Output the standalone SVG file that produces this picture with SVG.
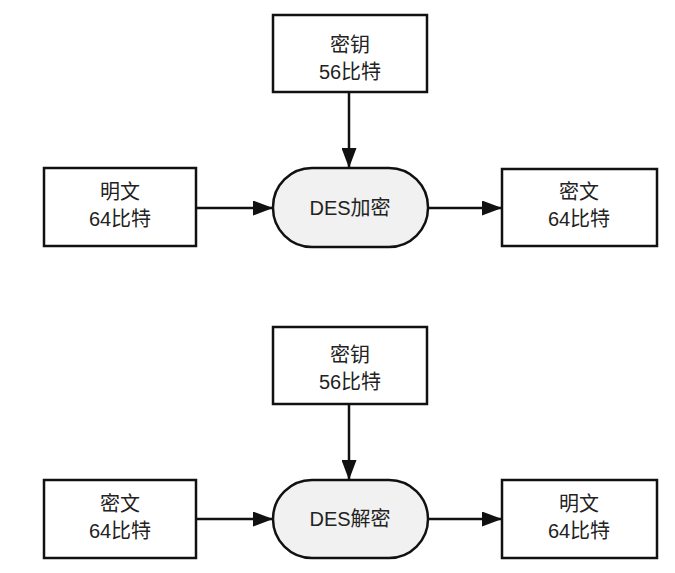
<svg xmlns="http://www.w3.org/2000/svg" width="675" height="573" viewBox="0 0 675 573">
<style>
.box{fill:#fff;stroke:#111;stroke-width:2.5}
.pill{fill:#f1f1f1;stroke:#111;stroke-width:2.5}
.t{font-family:"Liberation Sans","Noto Sans CJK SC",sans-serif;font-size:20px;fill:#222;text-anchor:middle}
.c{stroke:#111;stroke-width:2.5;fill:none;marker-end:url(#a)}
</style>
<defs>
<marker id="a" viewBox="0 0 20 15" refX="20" refY="7.5" markerWidth="20" markerHeight="15" markerUnits="userSpaceOnUse" orient="auto">
<path d="M0,0 L20,7.5 L0,15 Z" fill="#111"/>
</marker>
</defs>
<rect width="675" height="573" fill="#fff"/>
<g id="connectors">
<line class="c" x1="349" y1="92" x2="349" y2="168"/>
<line class="c" x1="196" y1="208" x2="273" y2="208"/>
<line class="c" x1="428" y1="208" x2="502" y2="208"/>
<line class="c" x1="349" y1="404" x2="349" y2="480"/>
<line class="c" x1="196" y1="519" x2="273" y2="519"/>
<line class="c" x1="428" y1="519" x2="502" y2="519"/>
</g>
<g id="key1"><rect class="box" x="273" y="15" width="154" height="77"/><text class="t" x="350" y="52">密钥</text><text class="t" x="350" y="79">56比特</text></g>
<g id="enc"><rect class="pill" x="273" y="168" width="155" height="79" rx="39" ry="39"/><text class="t" x="350" y="215">DES加密</text></g>
<g id="plain1"><rect class="box" x="44" y="168" width="152" height="78"/><text class="t" x="120" y="199">明文</text><text class="t" x="120" y="226">64比特</text></g>
<g id="cipher1"><rect class="box" x="502" y="169" width="155" height="77"/><text class="t" x="579" y="199">密文</text><text class="t" x="579" y="226">64比特</text></g>
<g id="key2"><rect class="box" x="273" y="327" width="154" height="77"/><text class="t" x="350" y="362">密钥</text><text class="t" x="350" y="389">56比特</text></g>
<g id="dec"><rect class="pill" x="273" y="480" width="155" height="78" rx="39" ry="39"/><text class="t" x="350" y="526">DES解密</text></g>
<g id="cipher2"><rect class="box" x="44" y="480" width="152" height="78"/><text class="t" x="120" y="511">密文</text><text class="t" x="120" y="538">64比特</text></g>
<g id="plain2"><rect class="box" x="502" y="480" width="155" height="78"/><text class="t" x="579" y="511">明文</text><text class="t" x="579" y="538">64比特</text></g>
</svg>
